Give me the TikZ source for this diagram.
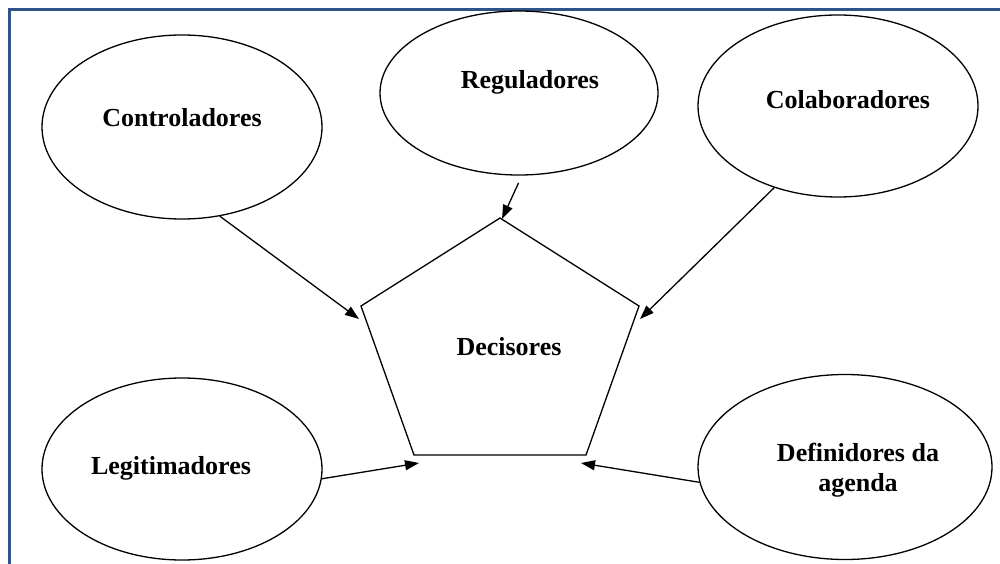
\documentclass[tikz,border=0pt]{standalone}
\usepackage{fontspec}
\setmainfont{Liberation Serif}
\usetikzlibrary{shapes.geometric,arrows.meta}
\definecolor{framecol}{RGB}{46,84,138}
\begin{document}
\begin{tikzpicture}[x=1pt,y=-1pt,
  actor/.style={draw,ellipse,line width=1.3pt,inner sep=0pt},
  lbl/.style={font=\fontsize{26}{30}\selectfont\bfseries,align=center},
  link/.style={line width=1.3pt,-{Triangle[length=14pt,width=10pt]}}]
\useasboundingbox (0,0) rectangle (1000,564);
\fill[white] (0,0) rectangle (1000,564);
% frame
\draw[framecol,line width=3pt] (9,566) -- (9,10) -- (1002,10);

% surrounding actors
\node[actor,minimum width=280pt,minimum height=184pt] (ctrl) at (182,127) {};
\node[lbl] at (182,118) {Controladores};
\node[actor,minimum width=278pt,minimum height=164pt] (reg) at (519,93) {};
\node[lbl] at (530,82) {Reguladores};
\node[actor,minimum width=280pt,minimum height=182pt] (colab) at (838,106) {};
\node[lbl] at (848,100) {Colaboradores};
\node[actor,minimum width=280pt,minimum height=182pt] (legit) at (182,469) {};
\node[lbl] at (171,468) {Legitimadores};
\node[actor,minimum width=294pt,minimum height=185pt] (agenda) at (845,467) {};
\node[lbl] at (858,470) {Definidores da\\agenda};

% central pentagon
\coordinate (pT) at (500,218);
\coordinate (pL) at (361,306);
\coordinate (pR) at (639,306);
\coordinate (pBL) at (414,455);
\coordinate (pBR) at (586,455);
\draw[line width=1.3pt] (pT) -- (pR) -- (pBR) -- (pBL) -- (pL) -- cycle;
\node[lbl] (dec) at (509,347) {Decisores};

% arrow end points
\coordinate (tL) at (359,319);
\coordinate (tT) at (502,219);
\coordinate (tR) at (640,319);
\coordinate (tBL) at (419,463);
\coordinate (tBR) at (581,463);

\draw[link] (ctrl.-67) -- (tL);
\draw[link,shorten <=8pt] (reg.-88) -- (tT);
\draw[link] (colab.-128) -- (tR);
\draw[link] (legit.-4) -- (tBL);
\draw[link] (agenda.186) -- (tBR);
\end{tikzpicture}
\end{document}
